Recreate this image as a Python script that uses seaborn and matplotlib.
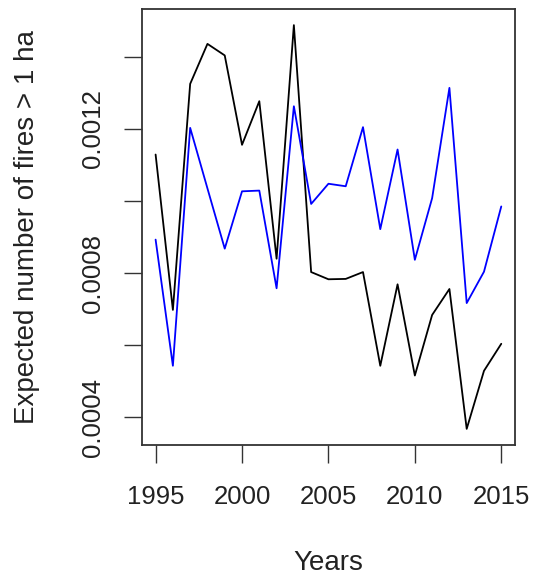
import matplotlib
matplotlib.use("Agg")
import matplotlib.pyplot as plt
import seaborn as sns
import pandas as pd

years = list(range(1995, 2016))
black_series = [0.001129, 0.000698, 0.001325, 0.001436, 0.001404, 0.001156, 0.001277,
                0.000840, 0.001488, 0.000803, 0.000783, 0.000784, 0.000803, 0.000543,
                0.000769, 0.000516, 0.000684, 0.000756, 0.000368, 0.000529, 0.000604]
blue_series = [0.000893, 0.000543, 0.001203, 0.001035, 0.000868, 0.001027, 0.001029,
               0.000758, 0.001263, 0.000992, 0.001048, 0.001041, 0.001205, 0.000922,
               0.001143, 0.000837, 0.001008, 0.001314, 0.000717, 0.000804, 0.000985]
x_ticks = [1995, 2000, 2005, 2010, 2015]
y_ticks = [0.0004, 0.0006, 0.0008, 0.0010, 0.0012, 0.0014]
y_tick_labels = ["0.0004", "", "0.0008", "", "0.0012", ""]

sns.set_style("white")
plt.rcParams["font.family"] = ["Liberation Sans", "DejaVu Sans"]

df = pd.DataFrame({
    "year": years * 2,
    "value": black_series + blue_series,
    "series": ["black"] * len(years) + ["blue"] * len(years),
})

fig = plt.figure(figsize=(5.33, 5.76), dpi=100)
ax = fig.add_axes([0.266, 0.2274, 0.7004, 0.757])

sns.lineplot(data=df, x="year", y="value", hue="series",
             palette={"black": "#000000", "blue": "#0000FF"},
             linewidth=1.3, legend=False, ax=ax)

# axis limits with a 4% margin on each side
xr = max(years) - min(years)
ax.set_xlim(min(years) - 0.04 * xr, max(years) + 0.04 * xr)
allv = black_series + blue_series
yr = max(allv) - min(allv)
ax.set_ylim(min(allv) - 0.04 * yr, max(allv) + 0.04 * yr)

ax.set_xticks(x_ticks)
ax.set_xticklabels([str(y) for y in x_ticks])
ax.set_yticks(y_ticks)
ax.set_yticklabels(y_tick_labels, rotation=90, va="center")

fs = 18.5
ax.tick_params(axis="both", direction="out", length=12.7, width=1.0,
               color="#333333", labelsize=fs, labelcolor="#222222",
               bottom=True, left=True, top=False, right=False)
ax.tick_params(axis="x", pad=16)
ax.tick_params(axis="y", pad=14)
for s in ax.spines.values():
    s.set_visible(True)
    s.set_color("#333333")
    s.set_linewidth(1.3)

lab_fs = 20
ax.set_xlabel("Years", fontsize=lab_fs, color="#222222")
ax.set_ylabel("Expected number of fires > 1 ha", fontsize=lab_fs, color="#222222")
ax.xaxis.set_label_coords(0.5, -0.27)
ax.xaxis.label.set_va("center")
ax.yaxis.set_label_coords(-0.307, 0.5)
ax.yaxis.label.set_va("center")

fig.savefig("out.png", dpi=100)
